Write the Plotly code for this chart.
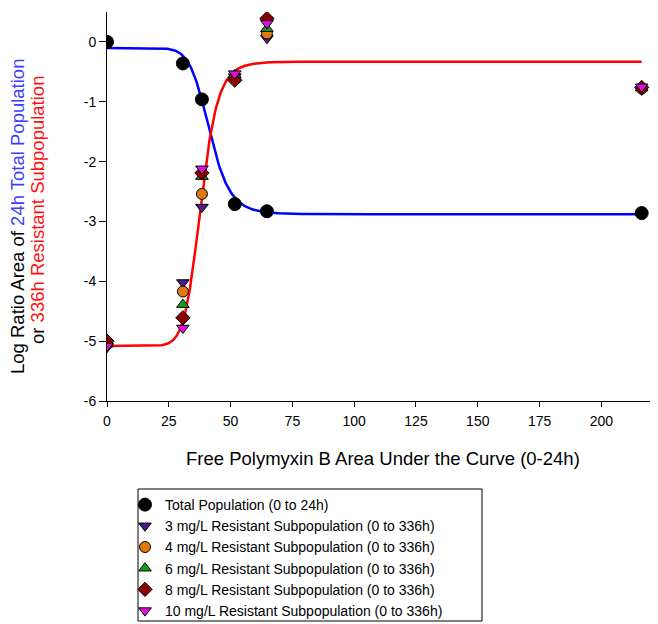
import numpy as np
import plotly.graph_objects as go

# ---- data ----
auc = [0, 30.7, 38.4, 51.7, 64.7, 216.3]
total_pop = [0.0, -0.36, -0.96, -2.71, -2.83, -2.86]
res_3 = [-5.10, -4.02, -2.76, -0.58, 0.06, -0.80]
res_4 = [-5.05, -4.17, -2.54, -0.60, 0.14, -0.78]
res_6 = [-5.05, -4.39, -2.25, -0.55, 0.22, -0.77]
res_8 = [-5.00, -4.61, -2.19, -0.64, 0.39, -0.76]
res_10 = [-5.08, -4.78, -2.12, -0.53, 0.31, -0.75]

# fitted sigmoid (Hill) curve parameters: [value-at-low-AUC, value-at-high-AUC, AUC50, slope]
blue_fit = [-0.10, -2.88, 41.5, 10.0]
red_fit = [-5.08, -0.33, 38.0, 11.0]

x_ticks = [0, 25, 50, 75, 100, 125, 150, 175, 200]
y_ticks = [0, -1, -2, -3, -4, -5, -6]
y_tick_labels = ["0", "-1", "-2", "-3", "-4", "-5", "-6"]

series = [
    ("3 mg/L Resistant Subpopulation (0 to 336h)", res_3, "triangle-down", "#4B1A8C"),
    ("4 mg/L Resistant Subpopulation (0 to 336h)", res_4, "circle", "#E07810"),
    ("6 mg/L Resistant Subpopulation (0 to 336h)", res_6, "triangle-up", "#10A010"),
    ("8 mg/L Resistant Subpopulation (0 to 336h)", res_8, "diamond", "#8B0000"),
    ("10 mg/L Resistant Subpopulation (0 to 336h)", res_10, "triangle-down", "#DD10DD"),
]


def hill(x, p):
    a, b, x0, n = p
    return a + (b - a) / (1.0 + (x0 / x) ** n)


xc = np.linspace(0.01, auc[-1], 800)

fig = go.Figure()
fig.add_trace(go.Scatter(x=xc, y=hill(xc, blue_fit), mode="lines",
                         line=dict(color="#0000FF", width=2.5), showlegend=False,
                         hoverinfo="skip"))
fig.add_trace(go.Scatter(x=xc, y=hill(xc, red_fit), mode="lines",
                         line=dict(color="#FF0000", width=2.5), showlegend=False,
                         hoverinfo="skip"))

fig.add_trace(go.Scatter(x=auc, y=total_pop, mode="markers",
                         name="Total Population (0 to 24h)",
                         marker=dict(symbol="circle", size=13, color="black",
                                     line=dict(color="black", width=1))))
for name, vals, sym, col in series:
    fig.add_trace(go.Scatter(x=auc, y=vals, mode="markers", name=name,
                             marker=dict(symbol=sym, size=11, color=col,
                                         line=dict(color="black", width=1))))

font = "Arial, Liberation Sans, sans-serif"
# page body has an 8px margin: figure is drawn offset by (8, 8) in the window
OFF = 8
W, H = 658 - OFF, 624 - OFF
# plot area in window pixels
WL, WR, WT, WB = 107, 657, 12, 401
L, R, T, B = WL - OFF, W - (WR - OFF), WT - OFF, H - (WB - OFF)
pw, ph = W - L - R, H - T - B


def px(xw):
    return (xw - WL) / pw


def py(yw):
    return (WB - yw) / ph


fig.update_layout(
    width=W, height=H,
    margin=dict(l=L, r=R, t=T, b=B, autoexpand=False),
    paper_bgcolor="white", plot_bgcolor="white",
    font=dict(family=font, size=14, color="black"),
    showlegend=True,
    legend=dict(x=px(125), y=py(489), xanchor="left", yanchor="top",
                borderwidth=0, bgcolor="rgba(0,0,0,0)",
                font=dict(size=14, family=font), tracegroupgap=0, itemwidth=30),
    xaxis=dict(range=[0, 222.5], tickvals=x_ticks, ticks="outside", ticklen=5,
               tickwidth=1, tickcolor="black", showline=True, linecolor="black",
               linewidth=1, showgrid=False, zeroline=False, automargin=False,
               tickfont=dict(size=14), ticklabelstandoff=2),
    yaxis=dict(range=[-6, 0.5], tickvals=y_ticks, ticktext=y_tick_labels,
               ticks="outside", ticklen=7,
               tickwidth=1, tickcolor="black", showline=True, linecolor="black",
               linewidth=1, showgrid=False, zeroline=False, automargin=False,
               tickfont=dict(size=14)),
    shapes=[dict(type="rect", xref="paper", yref="paper",
                 x0=px(138), x1=px(482), y0=py(621), y1=py(489),
                 line=dict(color="black", width=1), fillcolor="rgba(0,0,0,0)",
                 layer="below")],
    annotations=[
        dict(xref="paper", yref="paper", x=px(17), y=py(217),
             xanchor="center", yanchor="middle", textangle=-90, showarrow=False,
             font=dict(size=18.5, family=font, color="black"),
             text="Log Ratio Area of <span style='color:#3C3CFF'>24h Total Population</span>"),
        dict(xref="paper", yref="paper", x=px(38), y=py(210),
             xanchor="center", yanchor="middle", textangle=-90, showarrow=False,
             font=dict(size=18.5, family=font, color="black"),
             text="or <span style='color:#FF1010'>336h Resistant Subpopulation</span>"),
        dict(xref="paper", yref="paper", x=px(383), y=py(458),
             xanchor="center", yanchor="middle", showarrow=False,
             font=dict(size=18.5, family=font, color="black"),
             text="Free Polymyxin B Area Under the Curve (0-24h)"),
    ],
)

fig.write_html("out.html")
